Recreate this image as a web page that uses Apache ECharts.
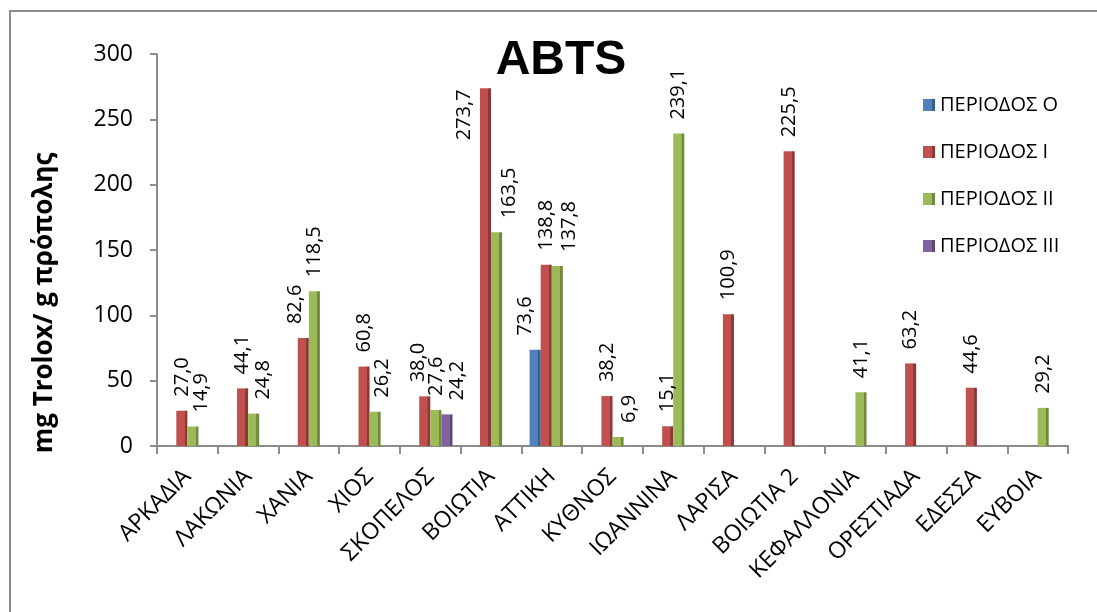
<!DOCTYPE html>
<html>
<head>
<meta charset="utf-8">
<title>ABTS</title>
<script src="https://cdn.jsdelivr.net/npm/echarts@6/dist/echarts.min.js"></script>
<style>
  html, body { margin: 0; padding: 0; background: #ffffff; }
  #chart { width: 1097px; height: 612px; }
</style>
</head>
<body>
<div id="chart"></div>
<script>
// Sampling regions
const categories = ['ΑΡΚΑΔΙΑ', 'ΛΑΚΩΝΙΑ', 'ΧΑΝΙΑ', 'ΧΙΟΣ', 'ΣΚΟΠΕΛΟΣ', 'ΒΟΙΩΤΙΑ', 'ΑΤΤΙΚΗ', 'ΚΥΘΝΟΣ',
  'ΙΩΑΝΝΙΝΑ', 'ΛΑΡΙΣΑ', 'ΒΟΙΩΤΙΑ 2', 'ΚΕΦΑΛΛΟΝΙΑ', 'ΟΡΕΣΤΙΑΔΑ', 'ΕΔΕΣΣΑ', 'ΕΥΒΟΙΑ'];

// ABTS values (mg Trolox / g propolis) per collection period; null = not sampled
const periodO   = [null, null, null, null, null, null, 73.6, null, null, null, null, null, null, null, null];
const periodI   = [27.0, 44.1, 82.6, 60.8, 38.0, 273.7, 138.8, 38.2, 15.1, 100.9, 225.5, null, 63.2, 44.6, null];
const periodII  = [14.9, 24.8, 118.5, 26.2, 27.6, 163.5, 137.8, 6.9, 239.1, null, null, 41.1, null, null, 29.2];
const periodIII = [null, null, null, null, 24.2, null, null, null, null, null, null, null, null, null, null];

const seriesNames = ['ΠΕΡΙΟΔΟΣ Ο', 'ΠΕΡΙΟΔΟΣ Ι', 'ΠΕΡΙΟΔΟΣ ΙΙ', 'ΠΕΡΙΟΔΟΣ ΙΙΙ'];
const yTicks = { min: 0, max: 300, interval: 50 };

// Face colour and darker side colour for each period
const palette = [
  ['#4F81BD', '#385D8A'],
  ['#C0504D', '#8C3836'],
  ['#9BBB59', '#71893F'],
  ['#8064A2', '#5C4776']
];

// Screen-space nudges [dx, dy] for value labels that sit beside their neighbours
const labelNudge = {
  '0,6': [-10, 0],
  '1,2': [-8, 0], '1,4': [-6, 0], '1,5': [-21, 66],
  '2,0': [8, 0], '2,1': [10, 0], '2,3': [7, 0], '2,5': [13, 0], '2,6': [12, 0], '2,7': [11, 0],
  '3,4': [10, 0]
};

const fontFamily = '"Open Sans", "Noto Sans", "Liberation Sans", sans-serif';
const fmt = v => v.toFixed(1).replace('.', ',');

function barColor(i) {
  return {
    type: 'linear', x: 0, y: 0, x2: 1, y2: 0,
    colorStops: [
      { offset: 0, color: palette[i][0] },
      { offset: 0.74, color: palette[i][0] },
      { offset: 0.76, color: palette[i][1] },
      { offset: 1, color: palette[i][1] }
    ]
  };
}

function buildSeries(values, si) {
  return {
    name: seriesNames[si],
    type: 'bar',
    barGap: '0%',
    barCategoryGap: '27%',
    itemStyle: { color: barColor(si) },
    data: values.map((v, ci) => {
      if (v == null) return null;
      const item = { value: v };
      const n = labelNudge[si + ',' + ci];
      if (n) {
        // label offset is applied in the rotated text frame
        item.label = { offset: [-n[1], n[0]] };
      }
      return item;
    }),
    label: {
      show: true,
      position: 'top',
      rotate: 90,
      align: 'left',
      verticalAlign: 'middle',
      distance: 14,
      fontSize: 20,
      fontFamily: fontFamily,
      color: '#000',
      formatter: p => fmt(p.value)
    }
  };
}

const chart = echarts.init(document.getElementById('chart'), null, { renderer: 'canvas' });

chart.setOption({
  animation: false,
  backgroundColor: '#ffffff',
  color: palette.map(p => p[0]),
  title: {
    text: 'ABTS',
    left: 556,
    top: 32,
    textAlign: 'center',
    textStyle: { fontSize: 48, fontWeight: 'bold', fontFamily: '"Liberation Sans", Arial, sans-serif', color: '#000' }
  },
  legend: {
    orient: 'vertical',
    left: 918,
    top: 89,
    itemWidth: 12,
    itemHeight: 12,
    itemGap: 25,
    icon: 'rect',
    textStyle: { fontSize: 20, lineHeight: 22, fontFamily: fontFamily, color: '#000' },
    data: seriesNames
  },
  grid: { left: 157, right: 29, top: 54, bottom: 166, containLabel: false },
  xAxis: {
    type: 'category',
    data: categories,
    axisLine: { show: true, lineStyle: { color: '#8c8c8c', width: 2 } },
    axisTick: { show: true, alignWithLabel: false, length: 8, lineStyle: { color: '#8c8c8c', width: 2 } },
    axisLabel: {
      interval: 0,
      rotate: 45,
      margin: 27,
      fontSize: 23,
      fontFamily: fontFamily,
      color: '#000'
    }
  },
  yAxis: {
    type: 'value',
    min: yTicks.min,
    max: yTicks.max,
    interval: yTicks.interval,
    axisLine: { show: true, lineStyle: { color: '#8c8c8c', width: 2 } },
    axisTick: { show: true, length: 7, lineStyle: { color: '#8c8c8c', width: 2 } },
    splitLine: { show: false },
    axisLabel: { fontSize: 23, margin: 24, fontFamily: fontFamily, color: '#000' }
  },
  graphic: [
    {
      type: 'polyline',
      silent: true,
      shape: { points: [[10, 612], [10, 11], [1097, 11]] },
      style: { stroke: '#8c8c8c', lineWidth: 2, fill: null }
    },
    {
      type: 'text',
      silent: true,
      x: 45,
      y: 303,
      rotation: Math.PI / 2,
      style: {
        text: 'mg Trolox/ g πρόπολης',
        fontSize: 26,
        fontWeight: 'bold',
        fontFamily: fontFamily,
        fill: '#000',
        align: 'center',
        verticalAlign: 'middle'
      }
    }
  ],
  series: [
    buildSeries(periodO, 0),
    buildSeries(periodI, 1),
    buildSeries(periodII, 2),
    buildSeries(periodIII, 3)
  ]
});
</script>
</body>
</html>
